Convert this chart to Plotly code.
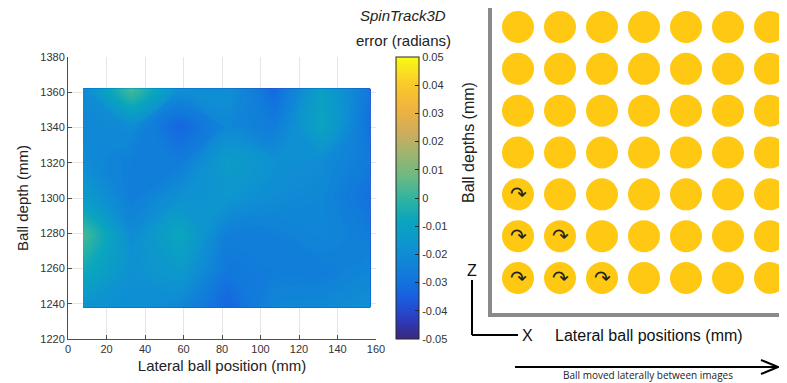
import plotly.graph_objects as go

# page body has an 8px margin, so the figure is drawn 8px smaller and
# all screen-pixel positions are shifted by that offset
OFF = 8
W, H = 787 - OFF, 383 - OFF

# ---------------- data ----------------
lateral_mm = [8, 33, 58, 83, 107, 132, 157]
depth_mm = [1238, 1259, 1279, 1300, 1321, 1341, 1362]
# error (radians), rows = depth (bottom -> top), cols = lateral position
err_rad = [
    [-0.017, -0.019, -0.022, -0.033, -0.022, -0.021, -0.019],
    [-0.006, -0.018, -0.014, -0.028, -0.026, -0.026, -0.022],
    [0.003, -0.020, -0.008, -0.025, -0.025, -0.022, -0.026],
    [-0.013, -0.025, -0.018, -0.016, -0.020, -0.022, -0.030],
    [-0.020, -0.025, -0.026, -0.013, -0.018, -0.020, -0.027],
    [-0.022, -0.020, -0.033, -0.022, -0.026, -0.009, -0.030],
    [-0.020, 0.004, -0.018, -0.018, -0.032, -0.011, -0.028],
]
cbar_vals = [-0.05, -0.04, -0.03, -0.02, -0.01, 0, 0.01, 0.02, 0.03, 0.04, 0.05]
cbar_text = ["-0.05", "-0.04", "-0.03", "-0.02", "-0.01", "0", "0.01", "0.02", "0.03", "0.04", "0.05"]
x_ticks = [0, 20, 40, 60, 80, 100, 120, 140, 160]
y_ticks = [1220, 1240, 1260, 1280, 1300, 1320, 1340, 1360, 1380]

# schematic: 7x7 ball grid, spin marks on some balls
ball_cols = [1, 2, 3, 4, 5, 6, 7]
ball_rows = [1, 2, 3, 4, 5, 6, 7]
spin_cols = [1, 2, 3, 1, 2, 1]
spin_rows = [1, 1, 1, 2, 2, 3]

parula = [
    [0.00, "rgb(55,40,125)"],
    [0.07, "rgb(45,60,190)"],
    [0.15, "rgb(25,95,225)"],
    [0.22, "rgb(18,120,220)"],
    [0.32, "rgb(15,145,210)"],
    [0.42, "rgb(10,165,190)"],
    [0.50, "rgb(50,180,160)"],
    [0.58, "rgb(110,185,130)"],
    [0.66, "rgb(160,180,110)"],
    [0.74, "rgb(210,172,90)"],
    [0.82, "rgb(240,180,60)"],
    [0.90, "rgb(250,200,45)"],
    [1.00, "rgb(250,250,20)"],
]


def fx(px):
    return min(1.0, max(0.0, (px - OFF) / W))


def fy(py):
    return min(1.0, max(0.0, 1 - (py - OFF) / H))


FONT = "Liberation Sans, Arial, sans-serif"

fig = go.Figure()

fig.add_trace(go.Contour(
    x=lateral_mm, y=depth_mm, z=err_rad,
    colorscale=parula, zmin=-0.05, zmax=0.05,
    contours=dict(coloring="fill", start=-0.05, end=0.05, size=0.0005, showlines=False),
    line=dict(width=0),
    xaxis="x", yaxis="y",
    colorbar=dict(
        x=fx(396), xanchor="left", xref="paper",
        y=fy(339), yanchor="bottom", yref="paper",
        len=(339 - 57) / H, lenmode="fraction",
        thickness=23, thicknessmode="pixels",
        outlinecolor="#262626", outlinewidth=1,
        tickmode="array", tickvals=cbar_vals, ticktext=cbar_text,
        ticks="inside", ticklen=4, tickcolor="#262626",
        tickfont=dict(family=FONT, size=11, color="#333333"),
        xpad=0, ypad=0,
    ),
    hoverinfo="skip",
))

bx = [c for r in ball_rows for c in ball_cols]
by = [r for r in ball_rows for c in ball_cols]
fig.add_trace(go.Scatter(
    x=bx, y=by, mode="markers", xaxis="x2", yaxis="y2",
    marker=dict(size=32, color="#FFC812", line=dict(width=0)),
    showlegend=False, hoverinfo="skip", cliponaxis=False,
))

annotations = []
for c, r in zip(spin_cols, spin_rows):
    annotations.append(dict(
        x=c, y=r, xref="x2", yref="y2", text="↷", showarrow=False,
        font=dict(family="DejaVu Sans", size=20, color="#222222"),
        xanchor="center", yanchor="middle",
    ))


def label(px, py, text, size, family=FONT, color="#222222", angle=0):
    return dict(x=fx(px), y=fy(py), xref="paper", yref="paper", text=text,
                showarrow=False, xanchor="center", yanchor="middle", textangle=angle,
                font=dict(family=family, size=size, color=color))


annotations += [
    label(403, 16, "<i>SpinTrack3D</i>", 15),
    label(403, 40, "error (radians)", 15),
    label(468, 143, "Ball depths (mm)", 16, angle=-90),
    label(472, 270, "Z", 16, color="#111111"),
    label(527, 335, "X", 16, color="#111111"),
    label(649, 335, "Lateral ball positions (mm)", 16, color="#111111"),
    label(648, 375, "Ball moved laterally between images", 10, family="Open Sans, sans-serif"),
]

shapes = [
    # Z-X reference frame
    dict(type="line", xref="paper", yref="paper", x0=fx(472), y0=fy(280), x1=fx(472), y1=fy(335),
         line=dict(color="black", width=2)),
    dict(type="line", xref="paper", yref="paper", x0=fx(472), y0=fy(335), x1=fx(518), y1=fy(335),
         line=dict(color="black", width=2)),
    # lateral motion arrow
    dict(type="line", xref="paper", yref="paper", x0=fx(515), y0=fy(367), x1=fx(778), y1=fy(367),
         line=dict(color="black", width=2)),
    dict(type="path", xref="paper", yref="paper",
         path=f"M {fx(761)} {fy(360)} L {fx(778)} {fy(367)} L {fx(761)} {fy(374)}",
         line=dict(color="black", width=2)),
]

fig.update_layout(
    width=W, height=H,
    margin=dict(l=0, r=0, t=0, b=0, autoexpand=False),
    paper_bgcolor="white", plot_bgcolor="white",
    showlegend=False,
    font=dict(family=FONT, color="#333333"),
    xaxis=dict(
        domain=[fx(68), fx(376)], anchor="y", range=[0, 160], automargin=False,
        tickmode="array", tickvals=x_ticks,
        showgrid=True, gridcolor="#e6e6e6", gridwidth=1, zeroline=False,
        showline=True, linecolor="#4d4d4d", linewidth=1,
        ticks="inside", ticklen=4, tickcolor="#4d4d4d",
        tickfont=dict(size=11, color="#333333"),
        title=dict(text="Lateral ball position (mm)", font=dict(size=15, color="#222222"), standoff=6),
    ),
    yaxis=dict(
        domain=[fy(339), fy(57)], anchor="x", range=[1220, 1380], automargin=False,
        tickmode="array", tickvals=y_ticks,
        showgrid=True, gridcolor="#e6e6e6", gridwidth=1, zeroline=False,
        showline=True, linecolor="#4d4d4d", linewidth=1,
        ticks="inside", ticklen=4, tickcolor="#4d4d4d",
        tickfont=dict(size=11, color="#333333"),
        title=dict(text="Ball depth (mm)", font=dict(size=15, color="#222222"), standoff=8),
    ),
    xaxis2=dict(
        domain=[fx(492), fx(787)], anchor="y2", automargin=False,
        range=[(492 - 476) / 42, (787 - 476) / 42],
        showgrid=False, zeroline=False, showticklabels=False, ticks="",
        showline=True, linecolor="#8a8a8a", linewidth=4,
    ),
    yaxis2=dict(
        domain=[fy(313), fy(8)], anchor="x2", automargin=False,
        range=[1 + (278 - 313) / 41.83, 1 + (278 - 8) / 41.83],
        showgrid=False, zeroline=False, showticklabels=False, ticks="",
        showline=True, linecolor="#8a8a8a", linewidth=4,
    ),
    annotations=annotations,
    shapes=shapes,
)

fig.write_html("out.html")
